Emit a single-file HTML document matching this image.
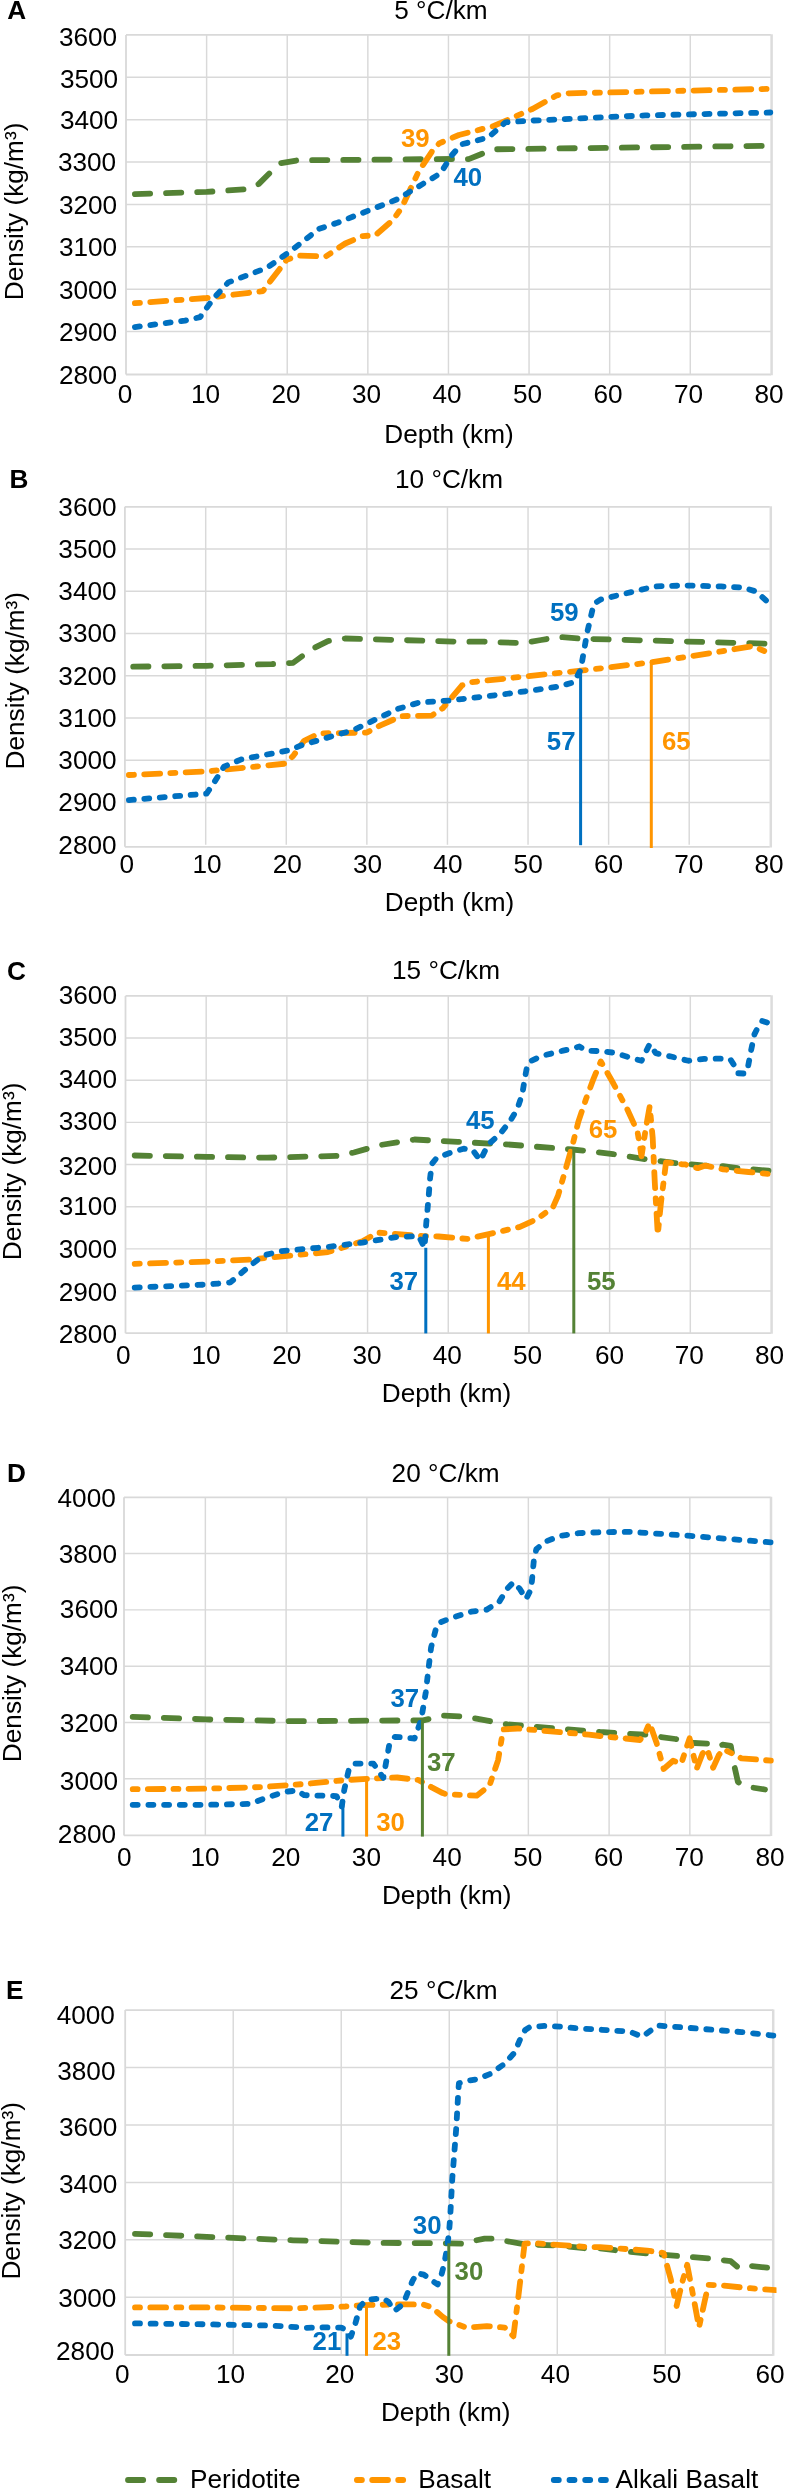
<!DOCTYPE html>
<html><head><meta charset="utf-8"><title>chart</title>
<style>
html,body{margin:0;padding:0;background:#fff;}
svg{display:block;will-change:transform;}
text{font-family:"Liberation Sans",sans-serif;fill:#000;}
.ax{font-size:26.2px;}
.b{font-weight:bold;}
</style></head><body>
<svg width="785" height="2490" viewBox="0 0 785 2490">
<rect width="785" height="2490" fill="#fff"/>

<g id="chartA">
<path d="M126.00 77.28H770.90M126.00 119.65H770.90M126.00 162.03H770.90M126.00 204.40H770.90M126.00 246.78H770.90M126.00 289.15H770.90M126.00 331.52H770.90M206.61 34.90V373.90M287.23 34.90V373.90M367.84 34.90V373.90M448.45 34.90V373.90M529.06 34.90V373.90M609.67 34.90V373.90M690.29 34.90V373.90" stroke="#D9D9D9" stroke-width="1.45" fill="none"/>
<path d="M126.00 34.90H770.90M126.00 374.50H770.90M126.00 34.90V374.50" stroke="#D9D9D9" stroke-width="1.8" fill="none"/>
<path d="M771.60 34.25V375.15" stroke="#DCDCDC" stroke-width="2.5" fill="none"/>
<text class="ax" x="117.2" y="46.40" text-anchor="end">3600</text>
<text class="ax" x="118.2" y="87.80" text-anchor="end">3500</text>
<text class="ax" x="118.2" y="128.60" text-anchor="end">3400</text>
<text class="ax" x="116.2" y="171.40" text-anchor="end">3300</text>
<text class="ax" x="117.2" y="214.40" text-anchor="end">3200</text>
<text class="ax" x="117.2" y="255.60" text-anchor="end">3100</text>
<text class="ax" x="117.2" y="299.20" text-anchor="end">3000</text>
<text class="ax" x="117.2" y="341.20" text-anchor="end">2900</text>
<text class="ax" x="117.2" y="383.90" text-anchor="end">2800</text>
<text class="ax" x="125.00" y="402.5" text-anchor="middle">0</text>
<text class="ax" x="205.50" y="402.5" text-anchor="middle">10</text>
<text class="ax" x="286.00" y="402.5" text-anchor="middle">20</text>
<text class="ax" x="366.50" y="402.5" text-anchor="middle">30</text>
<text class="ax" x="447.00" y="402.5" text-anchor="middle">40</text>
<text class="ax" x="527.50" y="402.5" text-anchor="middle">50</text>
<text class="ax" x="608.00" y="402.5" text-anchor="middle">60</text>
<text class="ax" x="688.50" y="402.5" text-anchor="middle">70</text>
<text class="ax" x="769.00" y="402.5" text-anchor="middle">80</text>
<text class="ax b" x="7.3" y="19.2">A</text>
<text class="ax" style="font-size:26.2px" x="441" y="19.2" text-anchor="middle">5 °C/km</text>
<text class="ax" style="font-size:26.2px" x="449" y="442.5" text-anchor="middle">Depth (km)</text>
<text class="ax" style="font-size:26.2px" transform="translate(22.5 211.4) rotate(-90)" text-anchor="middle">Density (kg/m³)</text>
<clipPath id="cp0"><rect x="120" y="24.9" width="654.1" height="359.0"/></clipPath>
<g clip-path="url(#cp0)" fill="none" stroke-width="5.8" stroke-linecap="round" stroke-linejoin="round">
<path d="M134.9 194.1L206.6 191.9L245.6 189.3L258.6 184.1L269.4 173.3L280.2 163.3L297.6 160.3L453.5 159.0L468.7 159.1L480.9 154.2L493.2 149.3L767.8 145.8L768.5 145.8" stroke="#548235" stroke-dasharray="15.230 15.932" stroke-dashoffset="0.00"/>
<path d="M134.9 303.2L206.6 298.0L262.9 291.1L271.6 279.4L286.7 259.9L297.6 255.6L325.7 256.5L345.2 243.5L362.5 236.1L375.5 235.2L392.8 220.1L401.5 208.0L418.8 171.1L431.8 151.7L439.2 143.4L458.9 135.0L493.2 126.2L532.4 109.0L556.9 95.3L569.2 93.3L767.8 88.9L768.5 88.9" stroke="#FF9500" stroke-dasharray="15.947 10.295 5.046 10.396" stroke-dashoffset="26.24"/>
<path d="M134.9 327.1L185.0 320.6L200.1 317.1L213.1 298.9L228.3 282.4L267.2 267.7L293.2 249.1L319.2 228.7L336.5 223.1L397.2 199.3L440.5 173.3L451.5 155.6L461.3 144.4L488.3 137.5L505.4 122.3L527.5 120.8L645.2 115.4L770.3 112.5" stroke="#0070C0" stroke-dasharray="4.949 10.590" stroke-dashoffset="0.00"/>
</g>
<text class="b" style="font-size:25.8px;fill:#FF9500" x="401" y="147">39</text>
<text class="b" style="font-size:25.8px;fill:#0070C0" x="453.5" y="185.8">40</text>
</g>
<g id="chartB">
<path d="M124.90 549.05H769.80M124.90 591.30H769.80M124.90 633.55H769.80M124.90 675.80H769.80M124.90 718.05H769.80M124.90 760.30H769.80M124.90 802.55H769.80M205.69 506.80V844.80M286.27 506.80V844.80M366.86 506.80V844.80M447.45 506.80V844.80M528.04 506.80V844.80M608.62 506.80V844.80M689.21 506.80V844.80" stroke="#D9D9D9" stroke-width="1.45" fill="none"/>
<path d="M124.90 506.80H769.80M124.90 846.80H769.80M124.90 506.80V846.80" stroke="#D9D9D9" stroke-width="1.8" fill="none"/>
<path d="M770.80 506.15V847.45" stroke="#DCDCDC" stroke-width="2.5" fill="none"/>
<text class="ax" x="116.6" y="515.80" text-anchor="end">3600</text>
<text class="ax" x="116.6" y="558.02" text-anchor="end">3500</text>
<text class="ax" x="116.6" y="600.25" text-anchor="end">3400</text>
<text class="ax" x="116.6" y="642.48" text-anchor="end">3300</text>
<text class="ax" x="116.6" y="684.70" text-anchor="end">3200</text>
<text class="ax" x="116.6" y="726.92" text-anchor="end">3100</text>
<text class="ax" x="116.6" y="769.15" text-anchor="end">3000</text>
<text class="ax" x="116.6" y="811.38" text-anchor="end">2900</text>
<text class="ax" x="116.6" y="853.60" text-anchor="end">2800</text>
<text class="ax" x="126.80" y="872.8" text-anchor="middle">0</text>
<text class="ax" x="207.07" y="872.8" text-anchor="middle">10</text>
<text class="ax" x="287.35" y="872.8" text-anchor="middle">20</text>
<text class="ax" x="367.62" y="872.8" text-anchor="middle">30</text>
<text class="ax" x="447.90" y="872.8" text-anchor="middle">40</text>
<text class="ax" x="528.17" y="872.8" text-anchor="middle">50</text>
<text class="ax" x="608.45" y="872.8" text-anchor="middle">60</text>
<text class="ax" x="688.73" y="872.8" text-anchor="middle">70</text>
<text class="ax" x="769.00" y="872.8" text-anchor="middle">80</text>
<text class="ax b" x="9.5" y="488.4">B</text>
<text class="ax" style="font-size:26.2px" x="449" y="488.2" text-anchor="middle">10 °C/km</text>
<text class="ax" style="font-size:26.2px" x="449.5" y="910.9" text-anchor="middle">Depth (km)</text>
<text class="ax" style="font-size:26.2px" transform="translate(24 680.7) rotate(-90)" text-anchor="middle">Density (kg/m³)</text>
<clipPath id="cp1"><rect x="119.1" y="496.8" width="653.9" height="357.99999999999994"/></clipPath>
<g clip-path="url(#cp1)" fill="none" stroke-width="5.8" stroke-linecap="round" stroke-linejoin="round">
<path d="M133.2 666.7L206.6 665.8L271.6 664.1L293.2 662.8L310.6 649.8L327.9 641.1L345.2 638.5L455.6 641.6L483.9 641.7L523.5 643.1L541.1 640.0L558.7 636.9L580.6 638.7L767.4 643.7" stroke="#548235" stroke-dasharray="15.235 15.937" stroke-dashoffset="0.00"/>
<path d="M128.9 775.0L206.6 771.5L284.6 763.7L293.2 755.9L304.1 740.8L319.2 733.4L366.9 732.5L379.9 725.6L401.5 716.1L431.8 715.6L442.7 708.3L451.0 698.4L462.0 685.3L470.8 682.2L580.6 670.7L651.0 662.4L721.3 651.4L752.9 646.1L767.4 652.3" stroke="#FF9500" stroke-dasharray="15.873 10.247 5.023 10.347" stroke-dashoffset="26.12"/>
<path d="M128.9 800.1L206.6 793.6L213.1 784.1L223.9 766.7L241.3 759.4L288.9 750.3L301.9 745.1L353.9 729.9L397.2 709.1L418.8 702.6L449.1 700.5L505.9 694.0L558.7 686.6L574.0 682.2L580.6 669.9L587.2 632.5L593.8 603.9L600.4 599.6L633.4 591.6L655.3 586.4L686.1 585.5L721.3 586.4L743.2 587.7L756.4 591.6L767.4 601.8" stroke="#0070C0" stroke-dasharray="4.935 10.561" stroke-dashoffset="0.00"/>
</g>
<path d="M580.6 669.9V845.2" stroke="#0070C0" stroke-width="3.0" fill="none"/>
<path d="M651.3 662.4V848" stroke="#FF9500" stroke-width="3.0" fill="none"/>
<text class="b" style="font-size:25.8px;fill:#0070C0" x="549.9" y="620.6">59</text>
<text class="b" style="font-size:25.8px;fill:#0070C0" x="546.8" y="750.3">57</text>
<text class="b" style="font-size:25.8px;fill:#FF9500" x="661.9" y="750.3">65</text>
</g>
<g id="chartC">
<path d="M125.50 1038.06H771.00M125.50 1080.22H771.00M125.50 1122.39H771.00M125.50 1164.55H771.00M125.50 1206.71H771.00M125.50 1248.88H771.00M125.50 1291.04H771.00M206.19 995.90V1333.20M286.88 995.90V1333.20M367.56 995.90V1333.20M448.25 995.90V1333.20M528.94 995.90V1333.20M609.62 995.90V1333.20M690.31 995.90V1333.20" stroke="#D9D9D9" stroke-width="1.45" fill="none"/>
<path d="M125.50 995.90H771.00M125.50 1333.20H771.00M125.50 995.90V1333.20" stroke="#D9D9D9" stroke-width="1.8" fill="none"/>
<path d="M771.60 995.25V1333.85" stroke="#DCDCDC" stroke-width="2.5" fill="none"/>
<text class="ax" x="117.0" y="1003.90" text-anchor="end">3600</text>
<text class="ax" x="117.0" y="1046.30" text-anchor="end">3500</text>
<text class="ax" x="117.0" y="1087.80" text-anchor="end">3400</text>
<text class="ax" x="117.0" y="1129.90" text-anchor="end">3300</text>
<text class="ax" x="117.0" y="1174.50" text-anchor="end">3200</text>
<text class="ax" x="117.0" y="1214.90" text-anchor="end">3100</text>
<text class="ax" x="117.0" y="1257.90" text-anchor="end">3000</text>
<text class="ax" x="117.0" y="1300.60" text-anchor="end">2900</text>
<text class="ax" x="117.0" y="1343.30" text-anchor="end">2800</text>
<text class="ax" x="123.40" y="1364.0" text-anchor="middle">0</text>
<text class="ax" x="206.10" y="1364.0" text-anchor="middle">10</text>
<text class="ax" x="286.70" y="1364.0" text-anchor="middle">20</text>
<text class="ax" x="367.00" y="1364.0" text-anchor="middle">30</text>
<text class="ax" x="447.20" y="1364.0" text-anchor="middle">40</text>
<text class="ax" x="527.50" y="1364.0" text-anchor="middle">50</text>
<text class="ax" x="609.60" y="1364.0" text-anchor="middle">60</text>
<text class="ax" x="689.20" y="1364.0" text-anchor="middle">70</text>
<text class="ax" x="769.60" y="1364.0" text-anchor="middle">80</text>
<text class="ax b" x="7" y="980">C</text>
<text class="ax" style="font-size:26.2px" x="446" y="979" text-anchor="middle">15 °C/km</text>
<text class="ax" style="font-size:26.2px" x="446.5" y="1402" text-anchor="middle">Depth (km)</text>
<text class="ax" style="font-size:26.2px" transform="translate(21.2 1171.4) rotate(-90)" text-anchor="middle">Density (kg/m³)</text>
<clipPath id="cp2"><rect x="119.5" y="985.9" width="654.7" height="357.30000000000007"/></clipPath>
<g clip-path="url(#cp2)" fill="none" stroke-width="5.8" stroke-linecap="round" stroke-linejoin="round">
<path d="M134.7 1155.5L206.6 1156.8L267.2 1157.7L336.5 1155.9L353.9 1152.5L379.9 1145.1L414.5 1139.5L457.8 1141.9L505.5 1144.3L572.4 1149.5L584.5 1150.7L613.0 1154.1L645.6 1159.2L674.1 1162.9L702.7 1165.4L723.2 1166.2L738.5 1168.2L768.5 1170.7" stroke="#548235" stroke-dasharray="15.200 15.900" stroke-dashoffset="0.00"/>
<path d="M134.7 1263.8L206.6 1261.6L249.9 1259.5L327.9 1252.1L362.5 1241.3L377.7 1232.6L423.2 1236.1L438.7 1236.5L467.3 1238.9L488.8 1234.1L519.9 1226.9L537.6 1218.7L552.9 1207.3L558.0 1195.8L563.1 1178.0L568.2 1160.1L573.2 1142.3L578.3 1121.9L586.0 1099.0L593.6 1078.6L600.8 1061.4L613.0 1082.8L627.3 1109.3L637.5 1131.7L641.5 1156.2L645.6 1129.7L649.7 1106.2L652.7 1137.8L654.8 1182.7L657.8 1234.7L660.9 1203.1L664.0 1178.6L666.0 1162.3L682.3 1164.3L685.0 1164.3L697.7 1168.2L705.4 1165.6L712.4 1167.1L723.2 1169.4L748.7 1172.0L767.8 1173.9" stroke="#FF9500" stroke-dasharray="15.892 10.259 5.029 10.360" stroke-dashoffset="26.15"/>
<path d="M134.7 1287.6L206.6 1284.6L230.4 1282.4L245.6 1269.4L262.9 1255.6L280.2 1251.2L327.9 1246.9L362.5 1242.6L397.2 1236.9L418.8 1236.1L424.5 1247.8L426.2 1223.9L428.5 1198.3L430.1 1178.0L431.8 1163.9L436.9 1157.6L451.0 1152.5L463.7 1148.7L472.6 1149.9L480.3 1160.5L487.9 1144.8L499.4 1134.6L509.6 1121.9L517.2 1109.2L522.3 1093.9L524.8 1078.6L527.4 1064.6L531.2 1060.8L542.7 1055.7L563.1 1050.6L572.2 1048.6L579.4 1046.5L586.5 1050.6L600.8 1051.2L613.0 1052.6L629.3 1057.3L641.5 1060.8L649.7 1044.1L655.8 1053.2L670.1 1056.3L688.4 1060.8L699.6 1059.4L704.1 1058.9L723.2 1058.6L730.2 1059.2L734.0 1065.0L737.2 1073.2L745.5 1073.6L748.1 1066.2L751.2 1049.7L754.4 1034.4L758.2 1026.8L762.1 1021.0L767.8 1022.7" stroke="#0070C0" stroke-dasharray="5.014 10.731" stroke-dashoffset="0.00"/>
</g>
<path d="M425.8 1247.8V1333.4" stroke="#0070C0" stroke-width="3.0" fill="none"/>
<path d="M488.4 1234V1333.4" stroke="#FF9500" stroke-width="3.0" fill="none"/>
<path d="M573.8 1149.5V1333.4" stroke="#548235" stroke-width="3.0" fill="none"/>
<text class="b" style="font-size:25.8px;fill:#0070C0" x="389.4" y="1289.8">37</text>
<text class="b" style="font-size:25.8px;fill:#FF9500" x="497" y="1289.8">44</text>
<text class="b" style="font-size:25.8px;fill:#548235" x="587" y="1289.8">55</text>
<text class="b" style="font-size:25.8px;fill:#0070C0" x="465.9" y="1129">45</text>
<text class="b" style="font-size:25.8px;fill:#FF9500" x="588.7" y="1137.8">65</text>
</g>
<g id="chartD">
<path d="M124.00 1553.58H770.60M124.00 1609.87H770.60M124.00 1666.15H770.60M124.00 1722.43H770.60M124.00 1778.72H770.60M205.35 1497.30V1835.00M286.10 1497.30V1835.00M366.85 1497.30V1835.00M447.60 1497.30V1835.00M528.35 1497.30V1835.00M609.10 1497.30V1835.00M689.85 1497.30V1835.00" stroke="#D9D9D9" stroke-width="1.45" fill="none"/>
<path d="M124.00 1497.30H770.60M124.00 1835.40H770.60M124.00 1497.30V1835.40" stroke="#D9D9D9" stroke-width="1.8" fill="none"/>
<path d="M771.00 1496.65V1836.05" stroke="#DCDCDC" stroke-width="2.5" fill="none"/>
<text class="ax" x="115.8" y="1506.50" text-anchor="end">4000</text>
<text class="ax" x="117" y="1563.10" text-anchor="end">3800</text>
<text class="ax" x="118.1" y="1618.40" text-anchor="end">3600</text>
<text class="ax" x="118.1" y="1675.00" text-anchor="end">3400</text>
<text class="ax" x="118.1" y="1732.10" text-anchor="end">3200</text>
<text class="ax" x="118.1" y="1789.70" text-anchor="end">3000</text>
<text class="ax" x="116.1" y="1842.70" text-anchor="end">2800</text>
<text class="ax" x="124.30" y="1866" text-anchor="middle">0</text>
<text class="ax" x="205.01" y="1866" text-anchor="middle">10</text>
<text class="ax" x="285.73" y="1866" text-anchor="middle">20</text>
<text class="ax" x="366.44" y="1866" text-anchor="middle">30</text>
<text class="ax" x="447.15" y="1866" text-anchor="middle">40</text>
<text class="ax" x="527.86" y="1866" text-anchor="middle">50</text>
<text class="ax" x="608.58" y="1866" text-anchor="middle">60</text>
<text class="ax" x="689.29" y="1866" text-anchor="middle">70</text>
<text class="ax" x="770.00" y="1866" text-anchor="middle">80</text>
<text class="ax b" x="7" y="1482">D</text>
<text class="ax" style="font-size:26.2px" x="445.6" y="1481.5" text-anchor="middle">20 °C/km</text>
<text class="ax" style="font-size:26.2px" x="446.7" y="1904.2" text-anchor="middle">Depth (km)</text>
<text class="ax" style="font-size:26.2px" transform="translate(21.3 1673.4) rotate(-90)" text-anchor="middle">Density (kg/m³)</text>
<clipPath id="cp3"><rect x="118.6" y="1487.3" width="655.2" height="357.70000000000005"/></clipPath>
<g clip-path="url(#cp3)" fill="none" stroke-width="5.8" stroke-linecap="round" stroke-linejoin="round">
<path d="M132.7 1716.9L206.6 1719.4L293.2 1721.2L423.2 1720.3L443.6 1715.7L466.5 1716.8L507.3 1724.4L588.8 1731.0L600.0 1732.0L614.1 1732.9L647.1 1734.8L658.9 1736.7L675.4 1739.0L694.3 1743.0L707.2 1743.7L717.8 1746.6L722.6 1744.7L730.8 1745.9L733.2 1760.7L737.9 1781.9L746.1 1786.6L765.0 1789.5" stroke="#548235" stroke-dasharray="15.246 15.948" stroke-dashoffset="0.00"/>
<path d="M132.7 1789.2L206.6 1788.7L262.9 1787.0L310.6 1783.5L345.2 1780.1L366.9 1778.8L397.2 1777.5L418.8 1780.1L431.8 1787.4L442.7 1793.1L446.1 1794.2L476.7 1795.7L489.5 1785.5L498.1 1760.1L503.2 1729.5L517.5 1728.5L588.8 1734.6L600.0 1736.0L623.6 1738.3L640.1 1740.0L646.0 1731.2L649.5 1723.0L656.6 1743.0L663.6 1769.0L673.1 1760.7L681.3 1763.5L686.0 1749.0L689.6 1738.3L693.1 1753.6L696.6 1769.0L702.5 1753.6L707.2 1749.0L713.1 1767.8L719.0 1754.8L723.7 1749.4L728.4 1751.7L741.4 1758.3L772.0 1760.7" stroke="#FF9500" stroke-dasharray="15.599 10.070 4.936 10.169" stroke-dashoffset="25.67"/>
<path d="M132.7 1804.8L206.6 1804.8L249.9 1803.9L267.2 1797.4L284.6 1791.8L297.6 1790.5L304.1 1795.2L336.5 1796.1L341.7 1806.9L344.3 1789.6L348.7 1770.1L353.9 1763.6L373.4 1763.6L383.3 1777.9L389.4 1744.1L395.0 1736.8L414.5 1738.5L421.0 1720.3L424.0 1703.0L425.8 1692.2L428.0 1672.9L431.1 1647.4L435.7 1629.6L438.2 1623.2L451.0 1618.1L471.3 1611.7L486.6 1609.7L499.4 1601.5L507.0 1588.8L513.4 1582.4L519.7 1588.8L526.1 1599.0L531.2 1588.8L533.8 1560.8L536.3 1549.3L545.2 1541.7L560.5 1535.8L578.3 1533.2L600.0 1532.2L629.6 1531.8L690.7 1535.9L772.3 1542.5" stroke="#0070C0" stroke-dasharray="5.000 10.700" stroke-dashoffset="0.00"/>
</g>
<path d="M342.9 1803.5V1836.6" stroke="#0070C0" stroke-width="3.0" fill="none"/>
<path d="M366.6 1779.7V1836.6" stroke="#FF9500" stroke-width="3.0" fill="none"/>
<path d="M422.4 1720.3V1836.6" stroke="#548235" stroke-width="3.0" fill="none"/>
<text class="b" style="font-size:25.8px;fill:#0070C0" x="304.7" y="1830.8">27</text>
<text class="b" style="font-size:25.8px;fill:#FF9500" x="376.2" y="1830.7">30</text>
<text class="b" style="font-size:25.8px;fill:#548235" x="427.0" y="1771.2">37</text>
<text class="b" style="font-size:25.8px;fill:#0070C0" x="390.5" y="1706.6">37</text>
</g>
<g id="chartE">
<path d="M125.20 2067.53H773.30M125.20 2124.97H773.30M125.20 2182.40H773.30M125.20 2239.83H773.30M125.20 2297.27H773.30M233.22 2010.10V2354.70M341.23 2010.10V2354.70M449.25 2010.10V2354.70M557.27 2010.10V2354.70M665.28 2010.10V2354.70" stroke="#D9D9D9" stroke-width="1.45" fill="none"/>
<path d="M125.20 2010.10H773.30M125.20 2355.00H773.30M125.20 2010.10V2355.00" stroke="#D9D9D9" stroke-width="1.8" fill="none"/>
<path d="M773.20 2009.45V2355.65" stroke="#DCDCDC" stroke-width="2.5" fill="none"/>
<text class="ax" x="114.9" y="2024.10" text-anchor="end">4000</text>
<text class="ax" x="115.5" y="2080.00" text-anchor="end">3800</text>
<text class="ax" x="117.3" y="2135.90" text-anchor="end">3600</text>
<text class="ax" x="117.3" y="2192.60" text-anchor="end">3400</text>
<text class="ax" x="116.5" y="2249.40" text-anchor="end">3200</text>
<text class="ax" x="116.4" y="2307.10" text-anchor="end">3000</text>
<text class="ax" x="114.3" y="2359.70" text-anchor="end">2800</text>
<text class="ax" x="122.40" y="2383.0" text-anchor="middle">0</text>
<text class="ax" x="230.50" y="2383.0" text-anchor="middle">10</text>
<text class="ax" x="339.70" y="2383.0" text-anchor="middle">20</text>
<text class="ax" x="449.20" y="2383.0" text-anchor="middle">30</text>
<text class="ax" x="555.40" y="2383.0" text-anchor="middle">40</text>
<text class="ax" x="666.70" y="2383.0" text-anchor="middle">50</text>
<text class="ax" x="770.00" y="2383.0" text-anchor="middle">60</text>
<text class="ax b" x="6" y="1998.6">E</text>
<text class="ax" style="font-size:26.2px" x="443.5" y="1998.5" text-anchor="middle">25 °C/km</text>
<text class="ax" style="font-size:26.2px" x="445.7" y="2421.3" text-anchor="middle">Depth (km)</text>
<text class="ax" style="font-size:26.2px" transform="translate(20 2190.8) rotate(-90)" text-anchor="middle">Density (kg/m³)</text>
<clipPath id="cp4"><rect x="119.2" y="2000.1" width="657.3" height="364.5999999999999"/></clipPath>
<g clip-path="url(#cp4)" fill="none" stroke-width="5.8" stroke-linecap="round" stroke-linejoin="round">
<path d="M135.0 2233.8L206.6 2236.8L293.2 2240.3L379.9 2242.9L449.1 2243.3L462.9 2243.7L475.7 2240.4L484.6 2238.6L493.5 2238.6L506.2 2241.1L524.1 2244.2L557.2 2245.5L588.8 2248.7L600.0 2248.3L623.6 2251.3L647.1 2253.5L670.7 2255.4L708.4 2258.4L730.8 2261.2L739.1 2268.3L750.8 2266.0L768.5 2267.8" stroke="#548235" stroke-dasharray="15.200 15.900" stroke-dashoffset="0.00"/>
<path d="M135.0 2307.4L206.6 2307.4L293.2 2308.3L345.2 2306.5L362.5 2305.2L397.2 2304.4L423.2 2304.4L431.8 2307.4L442.7 2316.9L448.7 2321.0L466.5 2327.6L486.9 2326.1L504.7 2327.6L513.4 2336.3L518.5 2295.5L524.6 2243.6L532.8 2243.1L588.8 2247.1L600.0 2247.1L647.1 2250.6L663.6 2253.0L670.7 2278.9L676.6 2306.0L682.5 2281.3L687.2 2264.8L693.1 2295.4L699.0 2327.2L704.9 2300.1L708.4 2284.8L722.6 2285.5L746.1 2287.9L775.6 2290.2" stroke="#FF9500" stroke-dasharray="15.800 10.200 5.000 10.300" stroke-dashoffset="26.00"/>
<path d="M135.0 2323.4L206.6 2324.3L271.6 2325.6L306.2 2327.8L325.0 2327.4L341.3 2327.6L347.0 2330.4L350.9 2336.6L355.0 2324.7L360.1 2306.3L366.5 2299.9L382.5 2298.3L388.3 2301.7L394.5 2310.9L403.2 2304.0L407.8 2292.5L412.4 2281.1L416.9 2273.1L423.8 2274.7L437.6 2284.5L441.0 2276.5L444.5 2262.7L446.8 2249.0L449.0 2232.9L450.2 2216.9L452.3 2178.3L456.3 2127.4L458.3 2091.5L458.9 2083.2L464.5 2081.3L476.7 2079.3L491.0 2073.6L504.2 2064.0L514.4 2052.8L520.5 2038.5L525.2 2030.0L529.7 2027.1L545.0 2025.9L560.3 2026.7L576.6 2028.3L599.0 2029.6L629.6 2031.6L642.3 2036.7L657.6 2025.5L690.7 2028.0L741.7 2032.1L774.8 2035.7" stroke="#0070C0" stroke-dasharray="4.979 10.654" stroke-dashoffset="0.00"/>
</g>
<path d="M347.0 2333.4V2355.8" stroke="#0070C0" stroke-width="3.0" fill="none"/>
<path d="M366.5 2305.2V2355.8" stroke="#FF9500" stroke-width="3.0" fill="none"/>
<path d="M448.8 2243.3V2355.8" stroke="#548235" stroke-width="3.0" fill="none"/>
<text class="b" style="font-size:25.8px;fill:#0070C0" x="312.6" y="2350.3">21</text>
<text class="b" style="font-size:25.8px;fill:#FF9500" x="372.5" y="2350.3">23</text>
<text class="b" style="font-size:25.8px;fill:#0070C0" x="412.8" y="2233.8">30</text>
<text class="b" style="font-size:25.8px;fill:#548235" x="454.6" y="2280.4">30</text>
</g>
<g id="legend">
<path d="M128.0 2480H174.4" stroke="#548235" stroke-width="5.8" stroke-linecap="round" stroke-dasharray="15.2 15.9" stroke-dashoffset="0" fill="none"/>
<text class="ax" style="font-size:26.2px" x="190" y="2487.8">Peridotite</text>
<path d="M356.9 2480H403.8" stroke="#FF9500" stroke-width="5.8" stroke-linecap="round" stroke-dasharray="15.8 10.2 5 10.3" stroke-dashoffset="26" fill="none"/>
<text class="ax" style="font-size:26.2px" x="418.2" y="2487.8">Basalt</text>
<path d="M553.8 2480H606" stroke="#0070C0" stroke-width="5.8" stroke-linecap="round" stroke-dasharray="5 10.7" stroke-dashoffset="0" fill="none"/>
<text class="ax" style="font-size:26.2px" x="615.6" y="2487.8">Alkali Basalt</text>
</g>
</svg></body></html>
